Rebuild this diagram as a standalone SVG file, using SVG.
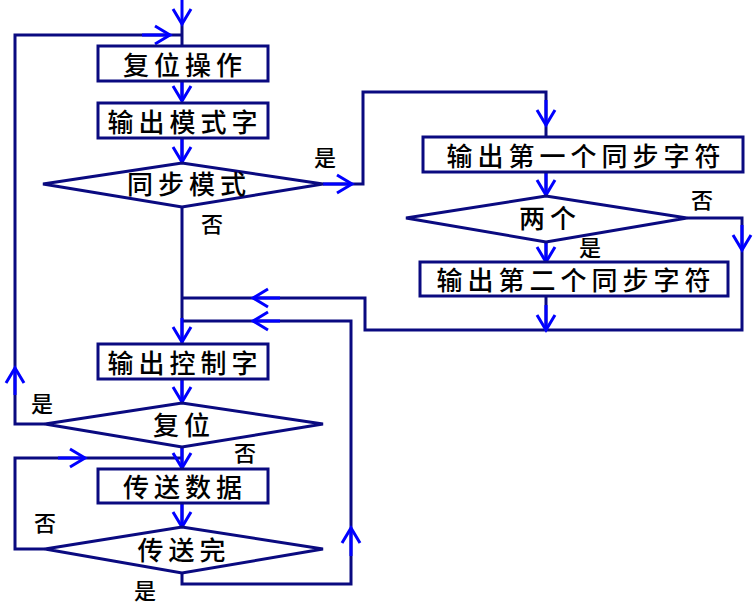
<svg xmlns="http://www.w3.org/2000/svg" width="756" height="605" viewBox="0 0 756 605">
<style>
.box{fill:#fff;stroke:#0a0a80;stroke-width:3}
.ln{fill:none;stroke:#0a0a80;stroke-width:3}
.ar{fill:none;stroke:#0000ff;stroke-width:3;marker-end:url(#v)}
.t{font-family:"Noto Sans CJK SC","Noto Sans CJK JP",sans-serif;font-size:26px;font-weight:500;letter-spacing:5px;fill:#000;text-anchor:middle;dominant-baseline:central}
.l{font-family:"Noto Sans CJK SC","Noto Sans CJK JP",sans-serif;font-size:22px;font-weight:500;fill:#000;text-anchor:middle;dominant-baseline:central}
</style>
<defs>
<marker id="v" markerUnits="userSpaceOnUse" markerWidth="24" markerHeight="24" viewBox="-16 -12 20 24" refX="0" refY="0" orient="auto">
<path d="M-15,-9 L0,0 L-15,9" fill="none" stroke="#0000ff" stroke-width="3"/>
</marker>
</defs>
<g id="connectors">
<path class="ln" d="M182,24 V46 M182,81 V101 M182,138 V162 M182,207 V344 M182,379 V402 M182,447 V468 M182,503 V527"/>
<path class="ln" d="M45,424 H15 V35 H182"/>
<path class="ln" d="M323,184 H363 V92 H546 V137"/>
<path class="ln" d="M546,172 V195 M546,242 V262 M546,296 V330"/>
<path class="ln" d="M687,218 H742 V330 H365 V298 H182"/>
<path class="ln" d="M182,321 H351 V584 H182 V573"/>
<path class="ln" d="M45,549 H15 V458 H182"/>
<path class="ar" d="M182,0 V24"/>
<path class="ar" d="M142,35 H170"/>
<path class="ar" d="M182,81 V101"/>
<path class="ar" d="M182,138 V162"/>
<path class="ar" d="M323,184 H352"/>
<path class="ar" d="M546,100 V125"/>
<path class="ar" d="M546,172 V195"/>
<path class="ar" d="M546,242 V262"/>
<path class="ar" d="M742,225 V250"/>
<path class="ar" d="M546,305 V330"/>
<path class="ar" d="M280,298 H253"/>
<path class="ar" d="M280,321 H253"/>
<path class="ar" d="M182,318 V342"/>
<path class="ar" d="M182,379 V402"/>
<path class="ar" d="M15,395 V368"/>
<path class="ar" d="M182,447 V468"/>
<path class="ar" d="M58,458 H85"/>
<path class="ar" d="M182,503 V527"/>
<path class="ar" d="M351,556 V528"/>
</g>
<g id="n1"><rect class="box" x="98" y="46" width="170" height="35"/><text class="t" x="185" y="63">复位操作</text></g>
<g id="n2"><rect class="box" x="98" y="103" width="170" height="35"/><text class="t" x="185" y="120">输出模式字</text></g>
<g id="n3"><polygon class="box" points="43,184 182,163 323,184 182,207"/><text class="t" x="189" y="182">同步模式</text></g>
<g id="n4"><rect class="box" x="423" y="137" width="320" height="35"/><text class="t" x="586" y="154">输出第一个同步字符</text></g>
<g id="n5"><polygon class="box" points="406,218 546,196 687,218 546,242"/><text class="t" x="550" y="216">两个</text></g>
<g id="n6"><rect class="box" x="420" y="262" width="308" height="34"/><text class="t" x="576" y="278">输出第二个同步字符</text></g>
<g id="n7"><rect class="box" x="98" y="344" width="170" height="35"/><text class="t" x="185" y="361">输出控制字</text></g>
<g id="n8"><polygon class="box" points="45,424 182,403 323,424 182,447"/><text class="t" x="184" y="423">复位</text></g>
<g id="n9"><rect class="box" x="98" y="469" width="170" height="34"/><text class="t" x="185" y="485">传送数据</text></g>
<g id="n10"><polygon class="box" points="45,549 182,527 323,549 182,573"/><text class="t" x="184" y="548">传送完</text></g>
<g id="labels">
<text class="l" x="325" y="156">是</text>
<text class="l" x="212" y="222">否</text>
<text class="l" x="702" y="198">否</text>
<text class="l" x="590" y="246">是</text>
<text class="l" x="42" y="402">是</text>
<text class="l" x="245" y="451">否</text>
<text class="l" x="45" y="521">否</text>
<text class="l" x="145" y="589">是</text>
</g>
</svg>
